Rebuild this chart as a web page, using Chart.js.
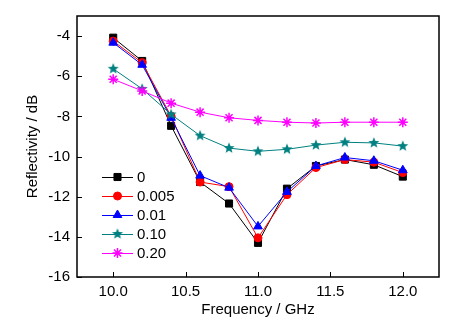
<!DOCTYPE html>
<html>
<head>
<meta charset="utf-8">
<script src="https://cdn.jsdelivr.net/npm/chart.js@4"></script>
<style>
  html, body { margin: 0; padding: 0; background: #fff; }
  #wrap { width: 453px; height: 327px; }
</style>
</head>
<body>
<div id="wrap"><canvas id="chartCanvas" width="453" height="327"></canvas></div>
<script>
// Reflectivity vs frequency for different filler contents
const freqs = [10.0, 10.2, 10.4, 10.6, 10.8, 11.0, 11.2, 11.4, 11.6, 11.8, 12.0];
const seriesLabels = ['0', '0.005', '0.01', '0.10', '0.20'];
const r0 = [-4.08, -5.24, -8.47, -11.27, -12.34, -14.30, -11.60, -10.47, -10.15, -10.41, -11.00];
const r005 = [-4.25, -5.33, -7.99, -11.27, -11.50, -14.05, -11.90, -10.55, -10.15, -10.28, -10.80];
const r01 = [-4.33, -5.43, -8.07, -10.95, -11.55, -13.48, -11.76, -10.47, -10.05, -10.21, -10.68];
const r10 = [-5.63, -6.63, -7.90, -8.96, -9.58, -9.74, -9.64, -9.43, -9.29, -9.32, -9.48];
const r20 = [-6.15, -6.73, -7.34, -7.79, -8.07, -8.20, -8.29, -8.33, -8.29, -8.29, -8.29];
const xTicks = [10.0, 10.5, 11.0, 11.5, 12.0];
const yTicks = [-16, -14, -12, -10, -8, -6, -4];

const FONT = 'Liberation Sans, Arial, sans-serif';

// filled five-pointed star, used as a point image
function makeStar(color, outer, inner) {
  const size = Math.ceil(outer * 2) + 2;
  const c = document.createElement('canvas');
  c.width = size;
  c.height = size;
  const g = c.getContext('2d');
  const cx = size / 2, cy = size / 2;
  g.beginPath();
  for (let i = 0; i < 10; i++) {
    const r = i % 2 === 0 ? outer : inner;
    const a = -Math.PI / 2 + i * Math.PI / 5;
    const px = cx + r * Math.cos(a), py = cy + r * Math.sin(a);
    if (i === 0) g.moveTo(px, py); else g.lineTo(px, py);
  }
  g.closePath();
  g.fillStyle = color;
  g.fill();
  return c;
}
const tealStar = makeStar('#008080', 5.8, 2.5);

function toPoints(ys) {
  return freqs.map((f, i) => ({ x: f, y: ys[i] }));
}

function series(label, ys, color, style, radius, order) {
  return {
    label,
    data: toPoints(ys),
    borderColor: color,
    backgroundColor: color,
    borderWidth: 1,
    pointStyle: style,
    pointRadius: radius,
    pointBorderWidth: style === 'star' ? 1.5 : 1,
    pointBorderColor: color,
    pointBackgroundColor: color,
    tension: 0,
    order
  };
}

const datasets = [
  series(seriesLabels[0], r0, '#000000', 'rect', 5, 5),
  series(seriesLabels[1], r005, '#ff0000', 'circle', 4, 4),
  series(seriesLabels[2], r01, '#0000ff', 'triangle', 5, 3),
  series(seriesLabels[3], r10, '#008080', tealStar, 5, 2),
  series(seriesLabels[4], r20, '#ff00ff', 'star', 5, 1)
];

// frame, inward tick marks and the in-plot legend
const framePlugin = {
  id: 'frame',
  afterDraw(chart) {
    const { ctx, chartArea: a, scales } = chart;
    ctx.save();
    ctx.strokeStyle = '#000';
    ctx.lineWidth = 1.5;
    ctx.strokeRect(a.left, a.top, a.right - a.left, a.bottom - a.top);
    ctx.lineWidth = 1;
    ctx.beginPath();
    xTicks.forEach(v => {
      const px = Math.round(scales.x.getPixelForValue(v)) + 0.5;
      ctx.moveTo(px, a.bottom);
      ctx.lineTo(px, a.bottom - 5);
    });
    yTicks.forEach(v => {
      const py = Math.round(scales.y.getPixelForValue(v)) + 0.5;
      ctx.moveTo(a.left, py);
      ctx.lineTo(a.left + 5, py);
    });
    ctx.stroke();

    const lx = a.left + 25, lw = 31;
    ctx.font = '15px ' + FONT;
    ctx.textBaseline = 'middle';
    ctx.textAlign = 'left';
    chart.data.datasets.forEach((ds, i) => {
      const y = 177 + i * 19;
      ctx.strokeStyle = ds.borderColor;
      ctx.lineWidth = 1;
      ctx.beginPath();
      ctx.moveTo(lx, y + 0.5);
      ctx.lineTo(lx + lw, y + 0.5);
      ctx.stroke();
      ctx.fillStyle = ds.backgroundColor;
      ctx.strokeStyle = ds.borderColor;
      ctx.lineWidth = ds.pointBorderWidth;
      Chart.helpers.drawPoint(ctx, {
        pointStyle: ds.pointStyle,
        radius: ds.pointRadius,
        rotation: 0,
        borderWidth: ds.pointBorderWidth
      }, lx + lw / 2, y);
      ctx.fillStyle = '#000';
      ctx.fillText(ds.label, lx + lw + 4, y + 1);
    });
    ctx.restore();
  }
};

new Chart(document.getElementById('chartCanvas'), {
  type: 'line',
  data: { datasets },
  options: {
    responsive: false,
    animation: false,
    layout: { padding: { top: 13, right: 14, left: 0, bottom: 0 } },
    plugins: { legend: { display: false }, tooltip: { enabled: false } },
    scales: {
      x: {
        type: 'linear',
        min: 9.75,
        max: 12.25,
        afterBuildTicks: s => { s.ticks = xTicks.map(v => ({ value: v })); },
        afterFit: s => { s.height = 50; },
        grid: { display: false, drawTicks: false },
        border: { display: false },
        ticks: {
          color: '#000',
          font: { family: FONT, size: 15 },
          padding: 6,
          maxRotation: 0,
          callback: v => v.toFixed(1)
        },
        title: {
          display: true,
          text: 'Frequency / GHz',
          color: '#000',
          font: { family: FONT, size: 15 },
          padding: { top: 0, bottom: 8 }
        }
      },
      y: {
        min: -16,
        max: -3,
        afterBuildTicks: s => { s.ticks = yTicks.map(v => ({ value: v })); },
        afterFit: s => { s.width = 77; },
        grid: { display: false, drawTicks: false },
        border: { display: false },
        ticks: {
          color: '#000',
          font: { family: FONT, size: 15 },
          padding: 7,
          callback: v => String(v)
        },
        title: {
          display: true,
          text: 'Reflectivity / dB',
          color: '#000',
          font: { family: FONT, size: 15 },
          padding: { top: 24, bottom: 0 }
        }
      }
    }
  },
  plugins: [framePlugin]
});
</script>
</body>
</html>
